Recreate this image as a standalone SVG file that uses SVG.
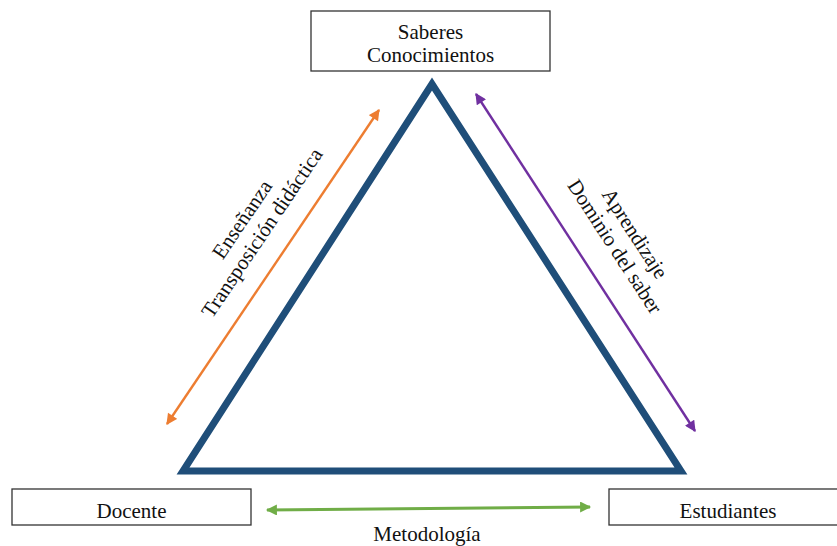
<svg xmlns="http://www.w3.org/2000/svg" width="837" height="546" viewBox="0 0 837 546">
<style>
.box{fill:#fff;stroke:#333;stroke-width:1.3}
.t{font-family:"Liberation Serif","Times New Roman",serif;font-size:21px;fill:#111;text-anchor:middle}
.tri{fill:none;stroke:#1F4E79;stroke-width:7;stroke-linejoin:miter;stroke-miterlimit:10}
</style>
<defs>
<marker id="ao" viewBox="0 0 10 10" refX="9" refY="5" markerWidth="12" markerHeight="11" markerUnits="userSpaceOnUse" orient="auto-start-reverse"><path d="M0,0 L10,5 L0,10 z" fill="#ED7D31"/></marker>
<marker id="ap" viewBox="0 0 10 10" refX="9" refY="5" markerWidth="12" markerHeight="11" markerUnits="userSpaceOnUse" orient="auto-start-reverse"><path d="M0,0 L10,5 L0,10 z" fill="#7030A0"/></marker>
<marker id="ag" viewBox="0 0 10 10" refX="9" refY="5" markerWidth="13" markerHeight="11" markerUnits="userSpaceOnUse" orient="auto-start-reverse"><path d="M0,0 L10,5 L0,10 z" fill="#70AD47"/></marker>
</defs>
<rect width="837" height="546" fill="#fff"/>
<g id="triangle"><polygon class="tri" points="432,84 183,471 681,471"/></g>
<g id="saberes"><rect class="box" x="311" y="11" width="239" height="60"/><text class="t" x="430.5" y="39">Saberes</text><text class="t" x="430.5" y="62">Conocimientos</text></g>
<g id="docente"><rect class="box" x="12" y="489" width="239" height="36"/><text class="t" x="131.5" y="518">Docente</text></g>
<g id="estudiantes"><rect class="box" x="609" y="489" width="240" height="36"/><text class="t" x="728" y="518">Estudiantes</text></g>
<g id="connectors">
<line x1="167" y1="424" x2="379" y2="110" stroke="#ED7D31" stroke-width="2.4" marker-start="url(#ao)" marker-end="url(#ao)"/>
<line x1="476" y1="94" x2="695" y2="431" stroke="#7030A0" stroke-width="2.4" marker-start="url(#ap)" marker-end="url(#ap)"/>
<line x1="267" y1="510" x2="590" y2="507" stroke="#70AD47" stroke-width="3.2" marker-start="url(#ag)" marker-end="url(#ag)"/>
</g>
<g id="label-ensenanza" transform="translate(252,226) rotate(-56)"><text class="t" x="0" y="-5">Enseñanza</text><text class="t" x="0" y="19">Transposición didáctica</text></g>
<g id="label-aprendizaje" transform="translate(625,240) rotate(57)"><text class="t" x="0" y="-5">Aprendizaje</text><text class="t" x="0" y="19">Dominio del saber</text></g>
<g id="label-metodologia"><text class="t" x="427" y="541">Metodología</text></g>
</svg>
